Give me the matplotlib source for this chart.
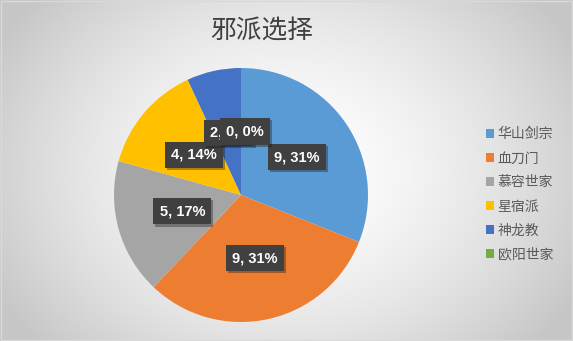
import numpy as np
import matplotlib.pyplot as plt
from matplotlib.patches import Patch
import matplotlib.patheffects as pe

plt.rcParams['font.family'] = ['Noto Sans CJK SC', 'DejaVu Sans']

categories = ['华山剑宗', '血刀门', '慕容世家', '星宿派', '神龙教', '欧阳世家']
counts = [9, 9, 5, 4, 2, 0]
colors = ['#5B9BD5', '#ED7D31', '#A5A5A5', '#FFC000', '#4472C4', '#70AD47']

fig = plt.figure(figsize=(5.73, 3.41), dpi=100)

# radial gradient background
bg = fig.add_axes([0, 0, 1, 1])
yy, xx = np.mgrid[0:341, 0:573]
d = np.sqrt(((xx - 286) / 330.0) ** 2 + ((yy - 170) / 260.0) ** 2)
shade = 1.0 - 0.22 * np.clip(d, 0, 1) ** 1.6
bg.imshow(np.dstack([shade] * 3), aspect='auto', extent=[0, 1, 0, 1])
bg.set_xlim(0, 1)
bg.set_ylim(0, 1)
bg.axis('off')
bg.add_patch(plt.Rectangle((0.001, 0.002), 0.997, 0.995, fill=False,
                           edgecolor='#D9D9D9', lw=1))

fig.text(0.457, 0.91, '邪派选择', ha='center', va='center', fontsize=18.5,
         color='#404040')

# pie: centre ~ (241,195) px, radius ~127 px
r_px = 127
ax = fig.add_axes([(241 - r_px) / 573, (341 - 195 - r_px) / 341,
                   2 * r_px / 573, 2 * r_px / 341])
wedges, _ = ax.pie(counts, colors=colors, startangle=90, counterclock=False,
                   radius=1.0, wedgeprops=dict(linewidth=0))
ax.set_xlim(-1, 1)
ax.set_ylim(-1, 1)
ax.set_aspect('auto')
ax.axis('off')

total = sum(counts)
label_r = [0.53, 0.51, 0.48, 0.49, 0.5, 0.5]
for i, w in enumerate(wedges):
    ang = np.deg2rad((w.theta1 + w.theta2) / 2)
    x = label_r[i] * np.cos(ang)
    y = label_r[i] * np.sin(ang)
    if counts[i] == 0:
        x += 0.03
    elif i == 4:
        x += 0.01
    pct = round(100 * counts[i] / total)
    ax.text(x, y, f'{counts[i]}, {pct}%', ha='center', va='center',
            fontsize=10.5, fontweight='bold', color='white',
            family='Liberation Sans', zorder=5 + i,
            bbox=dict(boxstyle='square,pad=0.42', facecolor='#404040',
                      edgecolor='none',
                      path_effects=[pe.SimplePatchShadow(offset=(1.5, -1.5),
                                                         alpha=0.35),
                                    pe.Normal()]))

handles = [Patch(facecolor=c, edgecolor='none') for c in colors]
fig.legend(handles, categories, loc='center left',
           bbox_to_anchor=(0.826, 0.43), frameon=False, fontsize=10,
           labelcolor='#595959', handlelength=0.6, handleheight=0.6,
           handletextpad=0.25, labelspacing=0.72)

fig.savefig('out.png', dpi=100)
